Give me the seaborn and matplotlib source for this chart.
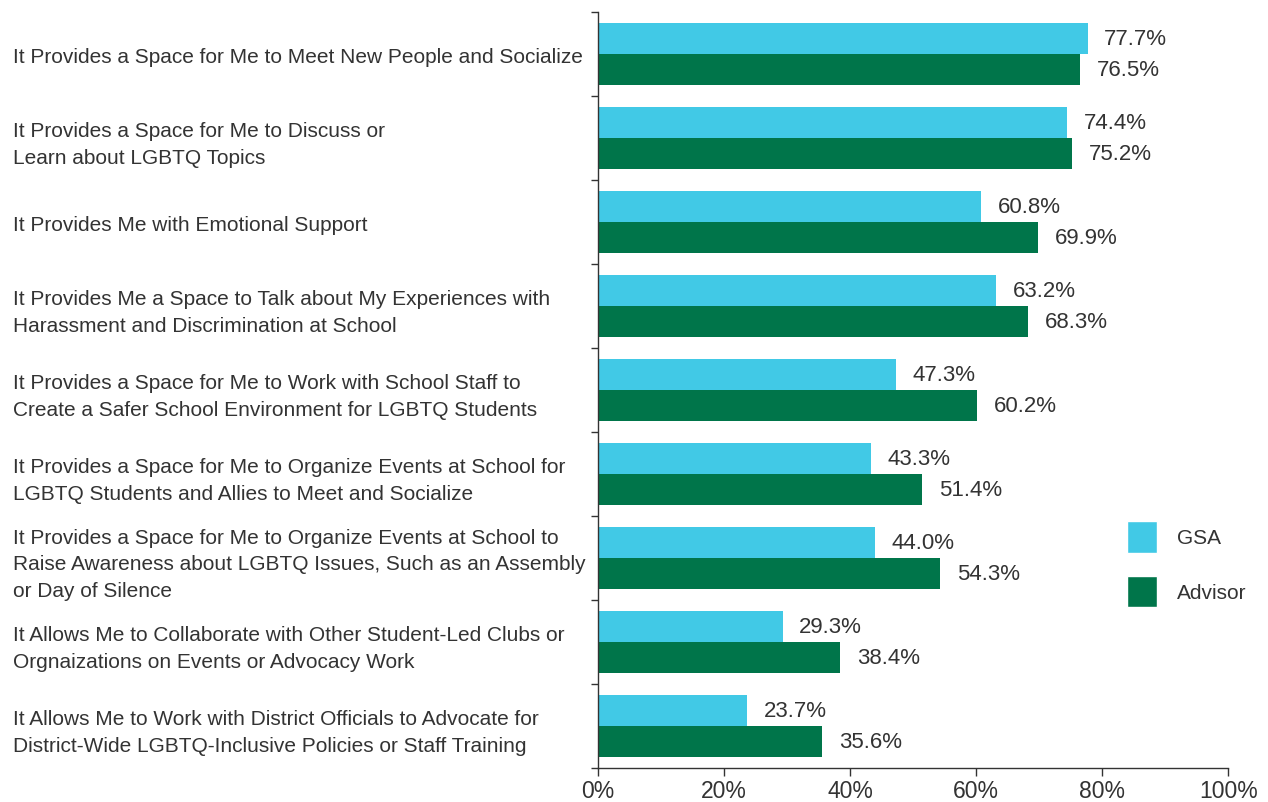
import pandas as pd
import seaborn as sns
import matplotlib.pyplot as plt
from matplotlib.patches import Patch
from matplotlib.ticker import FixedLocator, PercentFormatter

categories = [
    "It Provides a Space for Me to Meet New People and Socialize",
    "It Provides a Space for Me to Discuss or\nLearn about LGBTQ Topics",
    "It Provides Me with Emotional Support",
    "It Provides Me a Space to Talk about My Experiences with\nHarassment and Discrimination at School",
    "It Provides a Space for Me to Work with School Staff to\nCreate a Safer School Environment for LGBTQ Students",
    "It Provides a Space for Me to Organize Events at School for\nLGBTQ Students and Allies to Meet and Socialize",
    "It Provides a Space for Me to Organize Events at School to\nRaise Awareness about LGBTQ Issues, Such as an Assembly\nor Day of Silence",
    "It Allows Me to Collaborate with Other Student-Led Clubs or\nOrgnaizations on Events or Advocacy Work",
    "It Allows Me to Work with District Officials to Advocate for\nDistrict-Wide LGBTQ-Inclusive Policies or Staff Training",
]
gsa = [77.7, 74.4, 60.8, 63.2, 47.3, 43.3, 44.0, 29.3, 23.7]
advisor = [76.5, 75.2, 69.9, 68.3, 60.2, 51.4, 54.3, 38.4, 35.6]
series = ["GSA", "Advisor"]

df = pd.DataFrame({"Category": categories, "GSA": gsa, "Advisor": advisor})
df_melt = df.melt(id_vars=["Category"], var_name="Group", value_name="Pct")

light_blue = "#41c9e6"
dark_green = "#00754a"
text_col = "#333333"

sns.set_style("white")
plt.rcParams["font.family"] = ["Liberation Sans", "DejaVu Sans"]

fig = plt.figure(figsize=(12.68, 8.03), dpi=100)
ax = fig.add_axes([0.4716, 0.0423, 0.497, 0.9415])

sns.barplot(data=df_melt, y="Category", x="Pct", hue="Group", hue_order=series,
            palette=[light_blue, dark_green], orient="h", width=0.74, saturation=1,
            linewidth=0, order=categories, ax=ax, legend=False)

for cont in ax.containers:
    ax.bar_label(cont, fmt="%.1f%%", padding=12, fontsize=16, color=text_col)

ax.set_xlim(0, 100)
ax.set_ylim(len(categories) - 0.5, -0.5)
ax.xaxis.set_major_locator(FixedLocator([0, 20, 40, 60, 80, 100]))
ax.xaxis.set_major_formatter(PercentFormatter(decimals=0))
ax.set_xlabel("")
ax.set_ylabel("")

# category boundaries as minor ticks on the y axis
ax.yaxis.set_minor_locator(FixedLocator([i - 0.5 for i in range(len(categories) + 1)]))
ax.tick_params(axis="y", which="major", left=False, length=0, pad=421, labelsize=15,
               labelcolor=text_col)
ax.tick_params(axis="y", which="minor", left=True, length=5, width=1, color=text_col,
               direction="out")
ax.tick_params(axis="x", which="major", bottom=True, length=6, width=1, color=text_col,
               direction="out", labelsize=16.5, labelcolor=text_col, pad=2)
for lab in ax.get_yticklabels():
    lab.set_ha("left")
    lab.set_linespacing(1.5)

for side in ["top", "right"]:
    ax.spines[side].set_visible(False)
for side in ["left", "bottom"]:
    ax.spines[side].set_color(text_col)
    ax.spines[side].set_linewidth(1)

handles = [Patch(facecolor=light_blue, label="GSA"), Patch(facecolor=dark_green, label="Advisor")]
fig.legend(handles=handles, loc="upper left", bbox_to_anchor=(0.877, 0.368), frameon=False,
           handlelength=1.45, handleheight=1.95, labelspacing=1.1, handletextpad=0.95,
           fontsize=15, labelcolor=text_col, borderpad=0.2)

fig.savefig("out.png", dpi=100)
